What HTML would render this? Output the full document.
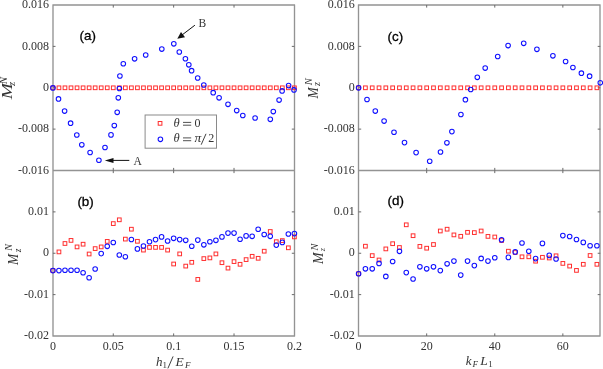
<!DOCTYPE html>
<html><head><meta charset="utf-8"><style>
html,body{margin:0;padding:0;background:#fff;}
body{width:603px;height:369px;overflow:hidden;}
svg{display:block;will-change:transform;}
.t{font-family:"Liberation Serif",serif;font-size:12px;fill:#333;}
.lab{font-family:"Liberation Sans",sans-serif;font-size:13.4px;fill:#000;stroke:#000;stroke-width:0.3px;}
.m{font-family:"Liberation Serif",serif;font-style:italic;fill:#333;}
.r{font-family:"Liberation Serif",serif;font-style:normal;fill:#333;}
</style></head><body>
<svg width="603" height="369" viewBox="0 0 603 369">
<rect width="603" height="369" fill="#fff"/>

<path d="M53.0 5.0V336.0M294.5 5.0V336.0M52.4 5.0H295.1M52.4 336.0H295.1M53.0 170.5H294.5" fill="none" stroke="#939393" stroke-width="1.35"/>
<path d="M358.5 5.0V336.0M600.0 5.0V336.0M357.9 5.0H600.6M357.9 336.0H600.6M358.5 170.5H600.0" fill="none" stroke="#939393" stroke-width="1.35"/>
<path d="M113.27 5.0v2.6M113.27 170.5v-2.6M113.27 170.5v2.6M113.27 336.0v-2.6M173.65 5.0v2.6M173.65 170.5v-2.6M173.65 170.5v2.6M173.65 336.0v-2.6M234.02 5.0v2.6M234.02 170.5v-2.6M234.02 170.5v2.6M234.02 336.0v-2.6M426.68 5.0v2.6M426.68 170.5v-2.6M426.68 170.5v2.6M426.68 336.0v-2.6M494.77 5.0v2.6M494.77 170.5v-2.6M494.77 170.5v2.6M494.77 336.0v-2.6M562.85 5.0v2.6M562.85 170.5v-2.6M562.85 170.5v2.6M562.85 336.0v-2.6M52.9 46.38h2.6M294.4 46.38h-2.6M52.9 87.75h2.6M294.4 87.75h-2.6M52.9 129.12h2.6M294.4 129.12h-2.6M52.9 211.88h2.6M294.4 211.88h-2.6M52.9 253.25h2.6M294.4 253.25h-2.6M52.9 294.62h2.6M294.4 294.62h-2.6M358.6 46.38h2.6M600.3 46.38h-2.6M358.6 87.75h2.6M600.3 87.75h-2.6M358.6 129.12h2.6M600.3 129.12h-2.6M358.6 211.88h2.6M600.3 211.88h-2.6M358.6 253.25h2.6M600.3 253.25h-2.6M358.6 294.62h2.6M600.3 294.62h-2.6" stroke="#6a6a6a" stroke-width="1"/>
<text class="t" x="49.10" y="8.15" text-anchor="end">0.016</text><text class="t" x="49.10" y="49.52" text-anchor="end">0.008</text><text class="t" x="49.10" y="90.90" text-anchor="end">0</text><text class="t" x="49.10" y="132.28" text-anchor="end">-0.008</text><text class="t" x="49.10" y="173.65" text-anchor="end">-0.016</text><text class="t" x="49.10" y="215.03" text-anchor="end">0.01</text><text class="t" x="49.10" y="256.40" text-anchor="end">0</text><text class="t" x="49.10" y="297.77" text-anchor="end">-0.01</text><text class="t" x="49.10" y="339.15" text-anchor="end">-0.02</text><text class="t" x="354.80" y="8.15" text-anchor="end">0.016</text><text class="t" x="354.80" y="49.52" text-anchor="end">0.008</text><text class="t" x="354.80" y="90.90" text-anchor="end">0</text><text class="t" x="354.80" y="132.28" text-anchor="end">-0.008</text><text class="t" x="354.80" y="173.65" text-anchor="end">-0.016</text><text class="t" x="354.80" y="215.03" text-anchor="end">0.01</text><text class="t" x="354.80" y="256.40" text-anchor="end">0</text><text class="t" x="354.80" y="297.77" text-anchor="end">-0.01</text><text class="t" x="354.80" y="339.15" text-anchor="end">-0.02</text><text class="t" x="52.90" y="350.2" text-anchor="middle">0</text><text class="t" x="113.27" y="350.2" text-anchor="middle">0.05</text><text class="t" x="173.65" y="350.2" text-anchor="middle">0.1</text><text class="t" x="234.02" y="350.2" text-anchor="middle">0.15</text><text class="t" x="294.40" y="350.2" text-anchor="middle">0.2</text><text class="t" x="358.60" y="350.2" text-anchor="middle">0</text><text class="t" x="426.68" y="350.2" text-anchor="middle">20</text><text class="t" x="494.77" y="350.2" text-anchor="middle">40</text><text class="t" x="562.85" y="350.2" text-anchor="middle">60</text>
<text class="lab" x="79.6" y="39.5">(a)</text>
<text class="lab" x="77.4" y="206.2">(b)</text>
<text class="lab" x="387.6" y="40.5">(c)</text>
<text class="lab" x="387.6" y="205.2">(d)</text>
<g fill="none" stroke="#ff2e2e" stroke-width="1.0"><rect x="51.05" y="85.95" width="3.7" height="3.7"/><rect x="57.09" y="85.95" width="3.7" height="3.7"/><rect x="63.12" y="85.95" width="3.7" height="3.7"/><rect x="69.16" y="85.95" width="3.7" height="3.7"/><rect x="75.20" y="85.95" width="3.7" height="3.7"/><rect x="81.24" y="85.95" width="3.7" height="3.7"/><rect x="87.28" y="85.95" width="3.7" height="3.7"/><rect x="93.31" y="85.95" width="3.7" height="3.7"/><rect x="99.35" y="85.95" width="3.7" height="3.7"/><rect x="105.39" y="85.95" width="3.7" height="3.7"/><rect x="111.42" y="85.95" width="3.7" height="3.7"/><rect x="117.46" y="85.95" width="3.7" height="3.7"/><rect x="123.50" y="85.95" width="3.7" height="3.7"/><rect x="129.54" y="85.95" width="3.7" height="3.7"/><rect x="135.57" y="85.95" width="3.7" height="3.7"/><rect x="141.61" y="85.95" width="3.7" height="3.7"/><rect x="147.65" y="85.95" width="3.7" height="3.7"/><rect x="153.69" y="85.95" width="3.7" height="3.7"/><rect x="159.72" y="85.95" width="3.7" height="3.7"/><rect x="165.76" y="85.95" width="3.7" height="3.7"/><rect x="171.80" y="85.95" width="3.7" height="3.7"/><rect x="177.84" y="85.95" width="3.7" height="3.7"/><rect x="183.88" y="85.95" width="3.7" height="3.7"/><rect x="189.91" y="85.95" width="3.7" height="3.7"/><rect x="195.95" y="85.95" width="3.7" height="3.7"/><rect x="201.99" y="85.95" width="3.7" height="3.7"/><rect x="208.02" y="85.95" width="3.7" height="3.7"/><rect x="214.06" y="85.95" width="3.7" height="3.7"/><rect x="220.10" y="85.95" width="3.7" height="3.7"/><rect x="226.14" y="85.95" width="3.7" height="3.7"/><rect x="232.17" y="85.95" width="3.7" height="3.7"/><rect x="238.21" y="85.95" width="3.7" height="3.7"/><rect x="244.25" y="85.95" width="3.7" height="3.7"/><rect x="250.29" y="85.95" width="3.7" height="3.7"/><rect x="256.32" y="85.95" width="3.7" height="3.7"/><rect x="262.36" y="85.95" width="3.7" height="3.7"/><rect x="268.40" y="85.95" width="3.7" height="3.7"/><rect x="274.44" y="85.95" width="3.7" height="3.7"/><rect x="280.47" y="85.95" width="3.7" height="3.7"/><rect x="286.51" y="85.95" width="3.7" height="3.7"/><rect x="292.55" y="85.95" width="3.7" height="3.7"/></g><g fill="none" stroke="#1010ff" stroke-width="1.05"><circle cx="52.90" cy="87.90" r="2.3"/><circle cx="58.50" cy="98.90" r="2.3"/><circle cx="64.60" cy="111.10" r="2.3"/><circle cx="70.60" cy="123.20" r="2.3"/><circle cx="76.80" cy="135.00" r="2.3"/><circle cx="81.80" cy="144.80" r="2.3"/><circle cx="90.10" cy="152.50" r="2.3"/><circle cx="98.90" cy="160.20" r="2.3"/><circle cx="105.00" cy="147.50" r="2.3"/><circle cx="111.00" cy="134.90" r="2.3"/><circle cx="114.30" cy="125.60" r="2.3"/><circle cx="117.20" cy="112.30" r="2.3"/><circle cx="118.30" cy="97.80" r="2.3"/><circle cx="119.40" cy="88.50" r="2.3"/><circle cx="119.90" cy="76.00" r="2.3"/><circle cx="123.30" cy="63.70" r="2.3"/><circle cx="134.60" cy="58.80" r="2.3"/><circle cx="145.70" cy="55.00" r="2.3"/><circle cx="161.80" cy="49.10" r="2.3"/><circle cx="173.80" cy="43.80" r="2.3"/><circle cx="179.30" cy="52.00" r="2.3"/><circle cx="185.40" cy="58.70" r="2.3"/><circle cx="188.80" cy="64.80" r="2.3"/><circle cx="191.60" cy="70.70" r="2.3"/><circle cx="197.70" cy="78.00" r="2.3"/><circle cx="203.80" cy="85.00" r="2.3"/><circle cx="213.20" cy="92.70" r="2.3"/><circle cx="219.10" cy="97.80" r="2.3"/><circle cx="228.00" cy="104.30" r="2.3"/><circle cx="236.70" cy="110.60" r="2.3"/><circle cx="242.80" cy="115.50" r="2.3"/><circle cx="255.10" cy="118.00" r="2.3"/><circle cx="270.30" cy="119.30" r="2.3"/><circle cx="273.30" cy="111.60" r="2.3"/><circle cx="279.10" cy="100.10" r="2.3"/><circle cx="282.10" cy="90.90" r="2.3"/><circle cx="288.60" cy="85.60" r="2.3"/><circle cx="294.00" cy="89.90" r="2.3"/></g>
<g fill="none" stroke="#ff2e2e" stroke-width="1.0"><rect x="51.05" y="268.75" width="3.7" height="3.7"/><rect x="57.09" y="250.05" width="3.7" height="3.7"/><rect x="63.12" y="241.65" width="3.7" height="3.7"/><rect x="69.16" y="238.55" width="3.7" height="3.7"/><rect x="75.20" y="245.05" width="3.7" height="3.7"/><rect x="81.24" y="242.35" width="3.7" height="3.7"/><rect x="87.28" y="252.15" width="3.7" height="3.7"/><rect x="93.31" y="246.75" width="3.7" height="3.7"/><rect x="99.35" y="245.05" width="3.7" height="3.7"/><rect x="105.39" y="239.55" width="3.7" height="3.7"/><rect x="111.43" y="221.75" width="3.7" height="3.7"/><rect x="117.46" y="217.95" width="3.7" height="3.7"/><rect x="123.50" y="237.25" width="3.7" height="3.7"/><rect x="129.54" y="227.35" width="3.7" height="3.7"/><rect x="135.57" y="239.45" width="3.7" height="3.7"/><rect x="141.61" y="248.25" width="3.7" height="3.7"/><rect x="147.65" y="245.55" width="3.7" height="3.7"/><rect x="153.69" y="245.55" width="3.7" height="3.7"/><rect x="159.72" y="245.55" width="3.7" height="3.7"/><rect x="165.76" y="248.25" width="3.7" height="3.7"/><rect x="171.80" y="262.15" width="3.7" height="3.7"/><rect x="177.84" y="252.05" width="3.7" height="3.7"/><rect x="183.88" y="264.25" width="3.7" height="3.7"/><rect x="189.91" y="260.45" width="3.7" height="3.7"/><rect x="195.95" y="277.55" width="3.7" height="3.7"/><rect x="201.99" y="256.75" width="3.7" height="3.7"/><rect x="208.03" y="256.05" width="3.7" height="3.7"/><rect x="214.06" y="252.05" width="3.7" height="3.7"/><rect x="220.10" y="260.85" width="3.7" height="3.7"/><rect x="226.14" y="266.25" width="3.7" height="3.7"/><rect x="232.18" y="259.75" width="3.7" height="3.7"/><rect x="238.21" y="262.45" width="3.7" height="3.7"/><rect x="244.25" y="257.75" width="3.7" height="3.7"/><rect x="250.29" y="254.45" width="3.7" height="3.7"/><rect x="256.32" y="256.45" width="3.7" height="3.7"/><rect x="262.36" y="249.35" width="3.7" height="3.7"/><rect x="268.40" y="229.65" width="3.7" height="3.7"/><rect x="274.44" y="239.85" width="3.7" height="3.7"/><rect x="280.47" y="238.75" width="3.7" height="3.7"/><rect x="286.51" y="245.95" width="3.7" height="3.7"/><rect x="292.55" y="235.05" width="3.7" height="3.7"/></g><g fill="none" stroke="#1010ff" stroke-width="1.05"><circle cx="52.90" cy="270.60" r="2.3"/><circle cx="58.94" cy="270.60" r="2.3"/><circle cx="64.97" cy="270.20" r="2.3"/><circle cx="71.01" cy="270.20" r="2.3"/><circle cx="77.05" cy="270.20" r="2.3"/><circle cx="83.09" cy="272.70" r="2.3"/><circle cx="89.12" cy="277.70" r="2.3"/><circle cx="95.16" cy="269.00" r="2.3"/><circle cx="101.20" cy="253.60" r="2.3"/><circle cx="107.24" cy="246.30" r="2.3"/><circle cx="113.28" cy="242.50" r="2.3"/><circle cx="119.31" cy="255.00" r="2.3"/><circle cx="125.35" cy="256.70" r="2.3"/><circle cx="131.39" cy="239.50" r="2.3"/><circle cx="137.42" cy="248.90" r="2.3"/><circle cx="143.46" cy="246.00" r="2.3"/><circle cx="149.50" cy="241.70" r="2.3"/><circle cx="155.54" cy="239.60" r="2.3"/><circle cx="161.57" cy="236.90" r="2.3"/><circle cx="167.61" cy="241.00" r="2.3"/><circle cx="173.65" cy="238.30" r="2.3"/><circle cx="179.69" cy="239.60" r="2.3"/><circle cx="185.72" cy="240.30" r="2.3"/><circle cx="191.76" cy="246.20" r="2.3"/><circle cx="197.80" cy="240.10" r="2.3"/><circle cx="203.84" cy="244.80" r="2.3"/><circle cx="209.88" cy="241.70" r="2.3"/><circle cx="215.91" cy="240.30" r="2.3"/><circle cx="221.95" cy="236.90" r="2.3"/><circle cx="227.99" cy="233.10" r="2.3"/><circle cx="234.03" cy="233.10" r="2.3"/><circle cx="240.06" cy="239.20" r="2.3"/><circle cx="246.10" cy="235.90" r="2.3"/><circle cx="252.14" cy="236.30" r="2.3"/><circle cx="258.17" cy="229.20" r="2.3"/><circle cx="264.21" cy="234.50" r="2.3"/><circle cx="270.25" cy="236.30" r="2.3"/><circle cx="276.29" cy="245.10" r="2.3"/><circle cx="282.32" cy="242.40" r="2.3"/><circle cx="288.36" cy="234.00" r="2.3"/><circle cx="294.40" cy="233.60" r="2.3"/></g>
<g fill="none" stroke="#ff2e2e" stroke-width="1.0"><rect x="356.75" y="85.95" width="3.7" height="3.7"/><rect x="363.56" y="85.95" width="3.7" height="3.7"/><rect x="370.37" y="85.95" width="3.7" height="3.7"/><rect x="377.18" y="85.95" width="3.7" height="3.7"/><rect x="383.98" y="85.95" width="3.7" height="3.7"/><rect x="390.79" y="85.95" width="3.7" height="3.7"/><rect x="397.60" y="85.95" width="3.7" height="3.7"/><rect x="404.41" y="85.95" width="3.7" height="3.7"/><rect x="411.22" y="85.95" width="3.7" height="3.7"/><rect x="418.03" y="85.95" width="3.7" height="3.7"/><rect x="424.83" y="85.95" width="3.7" height="3.7"/><rect x="431.64" y="85.95" width="3.7" height="3.7"/><rect x="438.45" y="85.95" width="3.7" height="3.7"/><rect x="445.26" y="85.95" width="3.7" height="3.7"/><rect x="452.07" y="85.95" width="3.7" height="3.7"/><rect x="458.88" y="85.95" width="3.7" height="3.7"/><rect x="465.69" y="85.95" width="3.7" height="3.7"/><rect x="472.49" y="85.95" width="3.7" height="3.7"/><rect x="479.30" y="85.95" width="3.7" height="3.7"/><rect x="486.11" y="85.95" width="3.7" height="3.7"/><rect x="492.92" y="85.95" width="3.7" height="3.7"/><rect x="499.73" y="85.95" width="3.7" height="3.7"/><rect x="506.54" y="85.95" width="3.7" height="3.7"/><rect x="513.34" y="85.95" width="3.7" height="3.7"/><rect x="520.15" y="85.95" width="3.7" height="3.7"/><rect x="526.96" y="85.95" width="3.7" height="3.7"/><rect x="533.77" y="85.95" width="3.7" height="3.7"/><rect x="540.58" y="85.95" width="3.7" height="3.7"/><rect x="547.39" y="85.95" width="3.7" height="3.7"/><rect x="554.20" y="85.95" width="3.7" height="3.7"/><rect x="561.00" y="85.95" width="3.7" height="3.7"/><rect x="567.81" y="85.95" width="3.7" height="3.7"/><rect x="574.62" y="85.95" width="3.7" height="3.7"/><rect x="581.43" y="85.95" width="3.7" height="3.7"/><rect x="588.24" y="85.95" width="3.7" height="3.7"/><rect x="595.05" y="85.95" width="3.7" height="3.7"/></g><g fill="none" stroke="#1010ff" stroke-width="1.05"><circle cx="358.60" cy="87.80" r="2.3"/><circle cx="367.00" cy="99.50" r="2.3"/><circle cx="375.30" cy="111.10" r="2.3"/><circle cx="384.10" cy="121.10" r="2.3"/><circle cx="394.00" cy="132.20" r="2.3"/><circle cx="404.50" cy="142.60" r="2.3"/><circle cx="416.10" cy="152.60" r="2.3"/><circle cx="429.70" cy="161.20" r="2.3"/><circle cx="440.50" cy="152.00" r="2.3"/><circle cx="446.90" cy="142.80" r="2.3"/><circle cx="451.90" cy="131.60" r="2.3"/><circle cx="460.90" cy="114.50" r="2.3"/><circle cx="465.40" cy="99.70" r="2.3"/><circle cx="470.70" cy="89.50" r="2.3"/><circle cx="477.30" cy="77.30" r="2.3"/><circle cx="485.20" cy="68.10" r="2.3"/><circle cx="497.70" cy="56.50" r="2.3"/><circle cx="508.10" cy="45.60" r="2.3"/><circle cx="523.70" cy="43.30" r="2.3"/><circle cx="536.90" cy="49.30" r="2.3"/><circle cx="552.90" cy="55.80" r="2.3"/><circle cx="565.60" cy="61.50" r="2.3"/><circle cx="572.90" cy="67.50" r="2.3"/><circle cx="581.40" cy="73.20" r="2.3"/><circle cx="589.60" cy="76.20" r="2.3"/><circle cx="600.30" cy="82.80" r="2.3"/></g>
<g fill="none" stroke="#ff2e2e" stroke-width="1.0"><rect x="356.75" y="271.85" width="3.7" height="3.7"/><rect x="363.56" y="244.35" width="3.7" height="3.7"/><rect x="370.37" y="253.75" width="3.7" height="3.7"/><rect x="377.18" y="258.15" width="3.7" height="3.7"/><rect x="383.98" y="247.05" width="3.7" height="3.7"/><rect x="390.79" y="241.85" width="3.7" height="3.7"/><rect x="397.60" y="245.65" width="3.7" height="3.7"/><rect x="404.41" y="222.95" width="3.7" height="3.7"/><rect x="411.22" y="233.85" width="3.7" height="3.7"/><rect x="418.03" y="244.55" width="3.7" height="3.7"/><rect x="424.83" y="246.35" width="3.7" height="3.7"/><rect x="431.64" y="242.65" width="3.7" height="3.7"/><rect x="438.45" y="229.15" width="3.7" height="3.7"/><rect x="445.26" y="227.35" width="3.7" height="3.7"/><rect x="452.07" y="233.05" width="3.7" height="3.7"/><rect x="458.88" y="234.45" width="3.7" height="3.7"/><rect x="465.69" y="230.45" width="3.7" height="3.7"/><rect x="472.49" y="230.75" width="3.7" height="3.7"/><rect x="479.30" y="229.15" width="3.7" height="3.7"/><rect x="486.11" y="234.55" width="3.7" height="3.7"/><rect x="492.92" y="235.15" width="3.7" height="3.7"/><rect x="499.73" y="238.65" width="3.7" height="3.7"/><rect x="506.54" y="249.35" width="3.7" height="3.7"/><rect x="513.34" y="250.65" width="3.7" height="3.7"/><rect x="520.15" y="254.95" width="3.7" height="3.7"/><rect x="526.96" y="254.95" width="3.7" height="3.7"/><rect x="533.77" y="259.35" width="3.7" height="3.7"/><rect x="540.58" y="255.45" width="3.7" height="3.7"/><rect x="547.39" y="256.15" width="3.7" height="3.7"/><rect x="554.20" y="253.95" width="3.7" height="3.7"/><rect x="561.00" y="261.55" width="3.7" height="3.7"/><rect x="567.81" y="264.25" width="3.7" height="3.7"/><rect x="574.62" y="268.55" width="3.7" height="3.7"/><rect x="581.43" y="262.45" width="3.7" height="3.7"/><rect x="588.24" y="253.65" width="3.7" height="3.7"/><rect x="595.05" y="262.45" width="3.7" height="3.7"/></g><g fill="none" stroke="#1010ff" stroke-width="1.05"><circle cx="358.60" cy="273.70" r="2.3"/><circle cx="365.41" cy="268.80" r="2.3"/><circle cx="372.22" cy="268.80" r="2.3"/><circle cx="379.03" cy="263.40" r="2.3"/><circle cx="385.83" cy="276.40" r="2.3"/><circle cx="392.64" cy="261.50" r="2.3"/><circle cx="399.45" cy="251.30" r="2.3"/><circle cx="406.26" cy="272.60" r="2.3"/><circle cx="413.07" cy="279.00" r="2.3"/><circle cx="419.88" cy="266.80" r="2.3"/><circle cx="426.68" cy="268.80" r="2.3"/><circle cx="433.49" cy="266.80" r="2.3"/><circle cx="440.30" cy="270.60" r="2.3"/><circle cx="447.11" cy="263.80" r="2.3"/><circle cx="453.92" cy="261.10" r="2.3"/><circle cx="460.73" cy="275.10" r="2.3"/><circle cx="467.54" cy="261.10" r="2.3"/><circle cx="474.34" cy="265.60" r="2.3"/><circle cx="481.15" cy="258.40" r="2.3"/><circle cx="487.96" cy="261.10" r="2.3"/><circle cx="494.77" cy="257.70" r="2.3"/><circle cx="501.58" cy="239.80" r="2.3"/><circle cx="508.39" cy="257.40" r="2.3"/><circle cx="515.19" cy="251.90" r="2.3"/><circle cx="522.00" cy="243.00" r="2.3"/><circle cx="528.81" cy="251.20" r="2.3"/><circle cx="535.62" cy="258.60" r="2.3"/><circle cx="542.43" cy="243.40" r="2.3"/><circle cx="549.24" cy="255.40" r="2.3"/><circle cx="556.05" cy="259.00" r="2.3"/><circle cx="562.85" cy="235.60" r="2.3"/><circle cx="569.66" cy="236.50" r="2.3"/><circle cx="576.47" cy="239.50" r="2.3"/><circle cx="583.28" cy="242.40" r="2.3"/><circle cx="590.09" cy="245.70" r="2.3"/><circle cx="596.90" cy="245.70" r="2.3"/></g>
<g transform="translate(12.1,99.3) rotate(-90)"><text class="m" x="0" y="0" font-size="15" transform="scale(1.3,1)" fill="#333" style="fill:#333">M</text><text class="m" x="15.0" y="-5.3" font-size="11" style="fill:#333">N</text><text class="m" x="13.3" y="3.1" font-size="11" style="fill:#333">z</text></g>
<g transform="translate(18.0,264.9) rotate(-90)"><text class="m" x="0" y="0" font-size="15" transform="scale(0.9,1)" fill="#333" style="fill:#333">M</text><text class="m" x="14.2" y="-5.8" font-size="10" style="fill:#333">N</text><text class="m" x="12.7" y="2.7" font-size="9.5" style="fill:#333">z</text></g>
<g transform="translate(317.6,98.4) rotate(-90)"><text class="m" x="0" y="0" font-size="15" transform="scale(0.9,1)" fill="#333" style="fill:#333">M</text><text class="m" x="13.2" y="-5.2" font-size="10.5" style="fill:#333">N</text><text class="m" x="12.5" y="2.8" font-size="10" style="fill:#333">z</text></g>
<g transform="translate(323.3,264.0) rotate(-90)"><text class="m" x="0" y="0" font-size="14.3" transform="scale(0.97,1)" fill="#333" style="fill:#333">M</text><text class="m" x="13.5" y="-4.9" font-size="10.3" style="fill:#333">N</text><text class="m" x="12.8" y="1.2" font-size="8" style="fill:#333">z</text></g>
<text class="m" x="156.0" y="365.5" font-size="13">h</text>
<text class="r" x="162.6" y="367.6" font-size="9">1</text>
<text class="m" x="175.4" y="365.5" font-size="13.5">E</text>
<text class="m" x="185.0" y="367.6" font-size="9">F</text>
<text class="m" x="465.8" y="365.2" font-size="13">k</text>
<text class="m" x="472.6" y="367.3" font-size="9">F</text>
<text class="m" x="480.2" y="365.2" font-size="13.5">L</text>
<text class="r" x="488.3" y="367.3" font-size="9">1</text>
<path d="M167.9 368.4L173.1 356.4" stroke="#2a2a2a" stroke-width="0.9"/>
<rect x="145.1" y="115.0" width="71.4" height="33.2" fill="#fff" stroke="#8a8a8a" stroke-width="1"/>
<rect x="158.2" y="121.5" width="3.7" height="3.7" fill="none" stroke="#ff2e2e" stroke-width="1.0"/>
<circle cx="160.4" cy="139.3" r="2.3" fill="none" stroke="#1010ff" stroke-width="1.05"/>
<text class="m" x="173.4" y="126.9" font-size="12.5">θ</text>
<path d="M183.0 122.40H191.2M183.0 125.20H191.2" stroke="#333" stroke-width="0.85"/>
<text class="m" x="173.4" y="142.4" font-size="12.5">θ</text>
<path d="M183.0 137.90H191.2M183.0 140.70H191.2" stroke="#333" stroke-width="0.85"/>
<text class="r" x="194.6" y="126.9" font-size="12">0</text>
<text class="m" x="194.4" y="142.4" font-size="13.5">π</text>
<path d="M201.2 144.70L206.0 133.80" stroke="#2a2a2a" stroke-width="0.9"/>
<text class="r" x="208.2" y="142.4" font-size="12">2</text>
<path d="M113 160.4H129.3" stroke="#111" stroke-width="1"/>
<path d="M104.8 160.5L113.5 157.9L113.5 163.1Z" fill="#111"/>
<text class="r" x="133.6" y="164.6" font-size="11.5">A</text>
<path d="M182 35L194.9 25.2" stroke="#111" stroke-width="1"/>
<path d="M177.3 38.8L181.0 31.9L185.0 37.2Z" fill="#111"/>
<text class="r" x="198.6" y="26.9" font-size="11.5">B</text>
</svg></body></html>
